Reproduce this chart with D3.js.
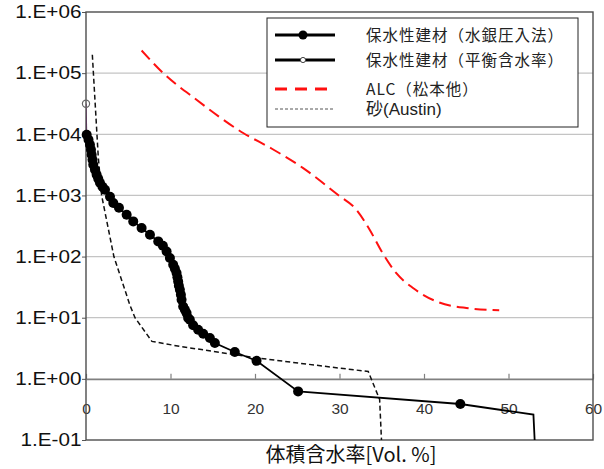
<!DOCTYPE html>
<html>
<head>
<meta charset="utf-8">
<script src="https://cdn.jsdelivr.net/npm/d3@7"></script>
<style>
  body { margin: 0; background: #fff; }
  text { font-family: "Liberation Sans", Arial, sans-serif; }
  .jp { font-family: "Noto Sans CJK JP", "Liberation Sans", sans-serif; }
  .latin { font-family: "Liberation Sans", "Noto Sans CJK JP", sans-serif; }
</style>
</head>
<body>
<div id="chart-area"></div>
<script>
// series values
// 保水性建材(水銀圧入法)
var mercuryX = [0.08, 0.3, 0.47, 0.59, 0.67, 0.77, 0.86, 1.06, 1.26, 1.45, 1.65, 1.95, 2.25, 2.84, 3.23, 3.9,
    4.81, 5.59, 6.58, 7.57, 8.55, 9.1, 9.54, 9.93, 10.32, 10.52, 10.72, 10.82, 10.91, 10.99, 11.11, 11.23,
    11.31, 11.5, 11.7, 11.9, 12.09, 12.29, 12.68, 13.27, 13.87, 14.66, 15.25, 17.61, 20.18, 25.1, 44.3];
var mercuryY = [9840, 8150, 6750, 5590, 4630, 3840, 3180, 2630, 2180, 1875, 1613, 1388, 1238, 951, 751, 630,
    483, 376, 293, 228, 177, 150, 121, 94.6, 73.6, 63.3, 53.8, 45.9, 39.2, 33.4, 28.7, 23.8,
    19.7, 15.3, 13.5, 11.9, 9.9, 9.27, 7.54, 6.36, 5.47, 4.65, 3.85, 2.75, 1.97, 0.624, 0.388];
// tail of the same line, no markers
var tailX = [44.3, 52.95, 53.2];
var tailY = [0.388, 0.26, 0.05];

// 保水性建材(平衡含水率)
var equilX = [0.0, 0.08];
var equilY = [31600, 9840];

// ALC(松本他)
var alcX = [6.58, 9.14, 13.08, 18.6, 22.0, 25.7, 29.8, 32.0, 33.57, 35.1, 36.7, 38.7, 41.45, 45.0, 48.9];
var alcY = [235000, 100000, 36700, 10500, 5800, 2800, 1026, 583, 275, 114, 54, 30.6, 18.5, 14.4, 13.2];

// 砂(Austin)
var sandX = [0.75, 1.45, 1.85, 3.3, 5.2, 5.8, 7.8, 11.1, 20.2, 25.3, 30, 33.4, 34.75, 35.0];
var sandY = [200000, 4300, 1000, 100, 16, 10, 4.1, 3.4, 2.2, 1.8, 1.5, 1.32, 0.46, 0.08];

var xTicks = [0, 10, 20, 30, 40, 50, 60];
var yTicks = [0.1, 1, 10, 100, 1000, 10000, 100000, 1000000];
var legendLabels = ['保水性建材（水銀圧入法）', '保水性建材（平衡含水率）', 'ALC（松本他）', '砂(Austin)'];
var xTitle = '体積含水率[Vol. %]';

var margin = { left: 86, right: 11, top: 12, bottom: 29 };
var width = 604 - margin.left - margin.right;
var height = 469 - margin.top - margin.bottom;

var svg = d3.select('#chart-area').append('svg')
    .attr('width', 604)
    .attr('height', 469);

var g = svg.append('g')
    .attr('transform', 'translate(' + margin.left + ',' + margin.top + ')');

var x = d3.scaleLinear().domain([0, 60]).range([0, width]);
var y = d3.scaleLog().domain([0.1, 1000000]).range([height, 0]);

svg.append('defs').append('clipPath').attr('id', 'clip')
    .append('rect').attr('width', width).attr('height', height);

// grid lines
g.selectAll('.grid').data(yTicks.filter(d => d > 1 && d < 1000000))
    .enter().append('line')
    .attr('class', 'grid')
    .attr('x1', 0).attr('x2', width)
    .attr('y1', d => y(d)).attr('y2', d => y(d))
    .attr('stroke', '#c4c4c4')
    .attr('stroke-width', 1.2);

// Y axis
var yAxisGroup = g.append('g')
    .call(d3.axisLeft(y).tickValues(yTicks).tickSize(4).tickSizeOuter(0).tickPadding(0)
        .tickFormat(d => {
            var e = Math.round(Math.log10(d));
            return '1.E' + (e < 0 ? '-' : '+') + (Math.abs(e) < 10 ? '0' : '') + Math.abs(e);
        }));
yAxisGroup.select('.domain').remove();
yAxisGroup.selectAll('line').attr('stroke', '#555');
yAxisGroup.selectAll('text')
    .attr('font-size', 18)
    .attr('fill', '#111')
    .attr('transform', 'scale(1.15,1)');

// X axis sits on y = 1
var xAxisGroup = g.append('g')
    .attr('transform', 'translate(0,' + y(1) + ')')
    .call(d3.axisBottom(x).tickValues(xTicks).tickSizeInner(-5).tickSizeOuter(0).tickPadding(24));
xAxisGroup.select('.domain').attr('stroke', '#808080').attr('stroke-width', 1.6);
xAxisGroup.selectAll('line').attr('stroke', '#808080').attr('stroke-width', 1.2);
xAxisGroup.selectAll('text')
    .attr('font-size', 15.5)
    .attr('fill', '#333');

// plot frame
g.append('rect')
    .attr('width', width).attr('height', height)
    .attr('fill', 'none')
    .attr('stroke', '#4d4d4d')
    .attr('stroke-width', 1.4);

var plot = g.append('g').attr('clip-path', 'url(#clip)');

function pts(xs, ys) {
    return xs.map((v, i) => [v, ys[i]]);
}

var line = d3.line().x(d => x(d[0])).y(d => y(d[1]));
var smooth = d3.line().x(d => x(d[0])).y(d => y(d[1])).curve(d3.curveMonotoneX);

// sand
plot.append('path')
    .datum(pts(sandX, sandY))
    .attr('d', line)
    .attr('fill', 'none')
    .attr('stroke', '#111')
    .attr('stroke-width', 1.5)
    .attr('stroke-dasharray', '5,3');

// ALC
plot.append('path')
    .datum(pts(alcX, alcY))
    .attr('d', smooth)
    .attr('fill', 'none')
    .attr('stroke', '#ff1010')
    .attr('stroke-width', 2)
    .attr('stroke-dasharray', '12,6');

// equilibrium
plot.append('path')
    .datum(pts(equilX, equilY))
    .attr('d', line)
    .attr('fill', 'none')
    .attr('stroke', '#5a3a5a')
    .attr('stroke-width', 1.2);
g.selectAll('.eq').data(pts(equilX, equilY).slice(0, 1))
    .enter().append('circle')
    .attr('class', 'eq')
    .attr('cx', d => x(d[0]))
    .attr('cy', d => y(d[1]))
    .attr('r', 3.6)
    .attr('fill', 'none')
    .attr('stroke', '#666')
    .attr('stroke-width', 1.2);

// mercury intrusion
plot.append('path')
    .datum(pts(mercuryX, mercuryY).concat(pts(tailX, tailY)))
    .attr('d', line)
    .attr('fill', 'none')
    .attr('stroke', '#000')
    .attr('stroke-width', 1.8);
g.selectAll('.hg').data(pts(mercuryX, mercuryY))
    .enter().append('circle')
    .attr('class', 'hg')
    .attr('cx', d => x(d[0]))
    .attr('cy', d => y(d[1]))
    .attr('r', 5)
    .attr('fill', '#000');

// Legend
var legend = svg.append('g').attr('transform', 'translate(267,18)');
legend.append('rect')
    .attr('width', 311).attr('height', 109)
    .attr('fill', '#fff')
    .attr('stroke', '#222')
    .attr('stroke-width', 1);

var rowY = [17, 42, 71, 91];
var rows = legend.selectAll('.row').data(legendLabels)
    .enter().append('g')
    .attr('class', 'row')
    .attr('transform', (d, i) => 'translate(0,' + rowY[i] + ')');

rows.append('line')
    .attr('x1', 8).attr('x2', 68)
    .attr('stroke', (d, i) => i === 2 ? '#ff1010' : (i === 3 ? '#555' : '#000'))
    .attr('stroke-width', (d, i) => i === 3 ? 1 : 3)
    .attr('stroke-dasharray', (d, i) => i === 2 ? '12,8' : (i === 3 ? '3,2' : null));

rows.filter((d, i) => i === 0).append('circle')
    .attr('cx', 36).attr('r', 4.5).attr('fill', '#000');
rows.filter((d, i) => i === 1).append('circle')
    .attr('cx', 36).attr('r', 2.6).attr('fill', '#fff').attr('stroke', '#444').attr('stroke-width', 1);

rows.append('text')
    .attr('class', (d, i) => i === 3 ? 'latin' : 'jp')
    .attr('x', 99)
    .attr('dy', '0.36em')
    .attr('font-size', (d, i) => i === 3 ? 17 : 15.5)
    .attr('letter-spacing', (d, i) => i === 3 ? 0 : 1)
    .attr('fill', '#222')
    .text(d => d);

// X Label
svg.append('text')
    .attr('class', 'jp')
    .attr('x', 351)
    .attr('y', 455)
    .attr('dy', '0.36em')
    .attr('text-anchor', 'middle')
    .attr('font-size', 20)
    .attr('fill', '#111')
    .text(xTitle);
</script>
</body>
</html>
